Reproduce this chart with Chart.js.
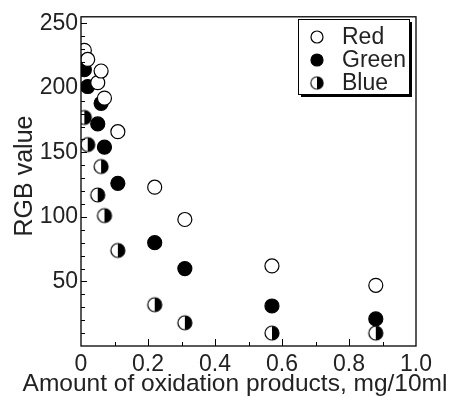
<!DOCTYPE html>
<html>
<head>
<meta charset="utf-8">
<script src="https://cdn.jsdelivr.net/npm/chart.js@4/dist/chart.umd.min.js"></script>
<style>
html,body{margin:0;padding:0;background:#fff;}
#wrap{width:457px;height:396px;position:relative;}
</style>
</head>
<body>
<div id="wrap"><canvas id="c" width="457" height="396"></canvas></div>
<script>
// ---- data ----
const seriesNames = ['Red', 'Green', 'Blue'];
const xValues = [0.01, 0.02, 0.05, 0.06, 0.07, 0.11, 0.22, 0.31, 0.57, 0.88];
const redValues   = [229, 222, 204, 213, 192, 166, 123, 98, 62, 47];
const greenValues = [214, 201, 172, 188, 154, 126, 80, 60, 31, 21];
const blueValues  = [177, 156, 117, 139, 101, 74, 32, 18, 10, 10];
const xTickLabels = ['0', '0.2', '0.4', '0.6', '0.8', '1.0'];
const yTickLabels = ['50', '100', '150', '200', '250'];
const xTitle = 'Amount of oxidation products, mg/10ml';
const yTitle = 'RGB value';

const FONT = '"Liberation Sans", Arial, sans-serif';
const R = 7;

function halfCircle(r) {
  const s = 2 * r + 4;
  const cv = document.createElement('canvas');
  cv.width = s; cv.height = s;
  const g = cv.getContext('2d');
  const c = s / 2;
  g.beginPath(); g.arc(c, c, r, 0, Math.PI * 2); g.fillStyle = '#fff'; g.fill();
  g.beginPath(); g.arc(c, c, r, -Math.PI / 2, Math.PI / 2); g.closePath(); g.fillStyle = '#000'; g.fill();
  g.beginPath(); g.arc(c, c, r, 0, Math.PI * 2); g.lineWidth = 1.2; g.strokeStyle = '#000'; g.stroke();
  return cv;
}
const blueStyle = halfCircle(R);

function pts(ys) { return xValues.map((x, i) => ({ x: x, y: ys[i] })); }

const datasets = [
  { label: seriesNames[0], data: pts(redValues), pointStyle: 'circle', pointRadius: R, backgroundColor: '#fff', borderColor: '#000', borderWidth: 1.2 },
  { label: seriesNames[1], data: pts(greenValues), pointStyle: 'circle', pointRadius: R, backgroundColor: '#000', borderColor: '#000', borderWidth: 1.2 },
  { label: seriesNames[2], data: pts(blueValues), pointStyle: blueStyle, pointRadius: R, backgroundColor: '#000', borderColor: '#000', borderWidth: 1 }
];

const frame = {
  id: 'frame',
  afterDraw(chart) {
    const ctx = chart.ctx, a = chart.chartArea;
    const xs = chart.scales.x, ys = chart.scales.y;
    ctx.save();
    ctx.strokeStyle = '#000';
    ctx.lineWidth = 1.3;
    ctx.strokeRect(a.left, a.top, a.right - a.left, a.bottom - a.top);
    ctx.lineWidth = 1;
    // y ticks inward
    for (let v = 10; v <= 250; v += 10) {
      const y = Math.round(ys.getPixelForValue(v)) + 0.5;
      const len = (v % 50 === 0) ? 6 : 4;
      ctx.beginPath(); ctx.moveTo(a.left, y); ctx.lineTo(a.left + len, y); ctx.stroke();
    }
    // x ticks inward
    for (let k = 1; k < 10; k++) {
      const x = Math.round(xs.getPixelForValue(k / 10)) + 0.5;
      const len = (k % 2 === 0) ? 7 : 4;
      ctx.beginPath(); ctx.moveTo(x, a.bottom); ctx.lineTo(x, a.bottom - len); ctx.stroke();
    }
    // axis titles
    ctx.fillStyle = '#222';
    ctx.font = '24.5px ' + FONT;
    ctx.textAlign = 'center'; ctx.textBaseline = 'middle';
    ctx.fillText(xTitle, 235, 384);
    ctx.font = '25px ' + FONT;
    ctx.save();
    ctx.translate(25, 176);
    ctx.rotate(-Math.PI / 2);
    ctx.fillText(yTitle, 0, 0);
    ctx.restore();
    // legend
    const lx = 298, ly = 19, lw = 111, lh = 75;
    ctx.fillStyle = '#000';
    ctx.fillRect(lx + 3, ly + 3, lw, lh);
    ctx.fillStyle = '#fff';
    ctx.fillRect(lx, ly, lw, lh);
    ctx.lineWidth = 1;
    ctx.strokeStyle = '#000';
    ctx.strokeRect(lx + 0.5, ly + 0.5, lw, lh);
    const rows = [37, 60, 83];
    ctx.font = '23px ' + FONT;
    ctx.textAlign = 'left';
    chart.data.datasets.forEach((ds, i) => {
      const cy = rows[i], cx = 317;
      if (i === 2) {
        ctx.drawImage(blueStyle, cx - (blueStyle.width - 2) / 2, cy - (blueStyle.height - 2) / 2, blueStyle.width - 2, blueStyle.height - 2);
      } else {
        ctx.beginPath(); ctx.arc(cx, cy, 6, 0, Math.PI * 2);
        ctx.fillStyle = ds.backgroundColor; ctx.fill();
        ctx.lineWidth = 1.2; ctx.strokeStyle = '#000'; ctx.stroke();
      }
      ctx.fillStyle = '#222';
      ctx.fillText(ds.label, 342, cy + 1);
    });
    ctx.restore();
  }
};

new Chart(document.getElementById('c'), {
  type: 'scatter',
  data: { datasets: datasets },
  options: {
    responsive: false,
    animation: false,
    devicePixelRatio: 1,
    layout: { padding: { left: 0, right: 41, top: 11, bottom: 0 } },
    plugins: { legend: { display: false }, tooltip: { enabled: false } },
    scales: {
      x: {
        type: 'linear', min: 0, max: 1,
        grid: { display: false, drawTicks: false },
        border: { display: false },
        afterFit: s => { s.height = 50; },
        ticks: {
          stepSize: 0.2, padding: 5, color: '#222', maxRotation: 0, autoSkip: false,
          font: { family: FONT, size: 23 },
          callback: (v) => { const i = Math.round(v / 0.2); return (Math.abs(v - i * 0.2) < 1e-6) ? xTickLabels[i] : ''; }
        }
      },
      y: {
        type: 'linear', min: 0, max: 255,
        grid: { display: false, drawTicks: false },
        border: { display: false },
        afterFit: s => { s.width = 81; },
        ticks: {
          stepSize: 50, includeBounds: false, padding: 3, color: '#222', autoSkip: false,
          font: { family: FONT, size: 23 },
          callback: (v) => { const i = Math.round(v / 50); return (v > 0 && v % 50 === 0) ? yTickLabels[i - 1] : ''; }
        }
      }
    }
  },
  plugins: [frame]
});
</script>
</body>
</html>
